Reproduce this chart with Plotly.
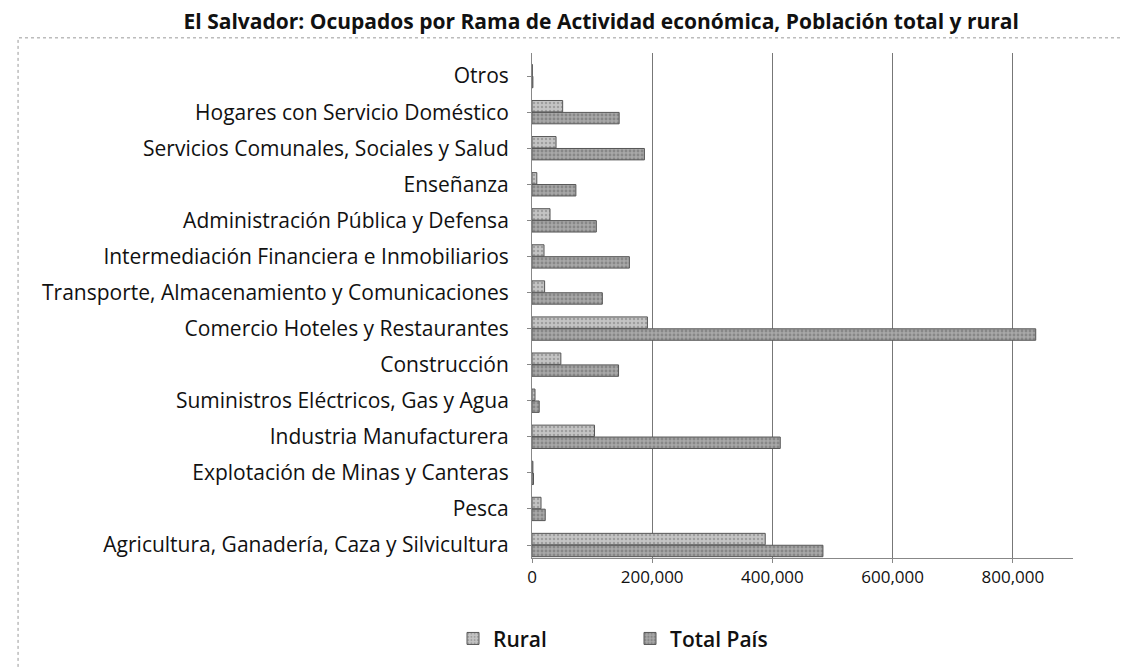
import plotly.graph_objects as go

categories = [
    "Agricultura, Ganadería, Caza y Silvicultura",
    "Pesca",
    "Explotación de Minas y Canteras",
    "Industria Manufacturera",
    "Suministros Eléctricos, Gas y Agua",
    "Construcción",
    "Comercio Hoteles y Restaurantes",
    "Transporte, Almacenamiento y Comunicaciones",
    "Intermediación Financiera e Inmobiliarios",
    "Administración Pública y Defensa",
    "Enseñanza",
    "Servicios Comunales, Sociales y Salud",
    "Hogares con Servicio Doméstico",
    "Otros",
]
rural = [388000, 15000, 1500, 104000, 5000, 48000, 192000, 21000, 20000, 30000, 8000, 40000, 51000, 500]
total_pais = [484000, 22000, 2500, 413000, 12000, 144000, 838000, 117000, 162000, 107000, 73000, 187000, 145000, 1500]
x_ticks = [0, 200000, 400000, 600000, 800000]

font_family = "Open Sans, Lato, sans-serif"

fig = go.Figure()
fig.add_trace(go.Bar(
    y=categories, x=total_pais, orientation="h", name="Total País",
    marker=dict(color="#a8a8a8", line=dict(color="#555555", width=1),
                pattern=dict(shape=".", fgcolor="#666666", size=4, solidity=0.4)),
))
fig.add_trace(go.Bar(
    y=categories, x=rural, orientation="h", name="Rural",
    marker=dict(color="#c4c4c4", line=dict(color="#555555", width=1),
                pattern=dict(shape=".", fgcolor="#777777", size=4, solidity=0.3)),
))

fig.update_layout(
    width=1130, height=668,
    paper_bgcolor="white", plot_bgcolor="white",
    margin=dict(l=524, r=65, t=45, b=118, autoexpand=False),
    barmode="group", bargap=0.34, bargroupgap=0.04,
    font=dict(family=font_family, color="#111111"),
    title=dict(
        text="<b>El Salvador: Ocupados por Rama de Actividad económica, Población total y rural</b>",
        x=0.525, xanchor="center", y=0.99, yanchor="top", yref="container",
        pad=dict(t=0),
        font=dict(size=21, family=font_family, color="#111111"),
    ),
    showlegend=True,
    legend=dict(orientation="h", x=-0.146, xanchor="left", y=-0.16, yanchor="middle",
                traceorder="reversed",
                font=dict(size=21, family=font_family, weight=600),
                itemwidth=30, entrywidth=132, entrywidthmode="pixels"),
    xaxis=dict(
        range=[0, 900000], tickvals=x_ticks, tickformat=",",
        showgrid=True, gridcolor="#777777", gridwidth=1,
        showline=True, linecolor="#888888", linewidth=1,
        ticks="outside", ticklen=4, tickcolor="#888888",
        tickfont=dict(size=17, family=font_family), zeroline=False,
    ),
    yaxis=dict(
        showline=True, linecolor="#888888", linewidth=1,
        ticks="outside", ticklen=4, tickcolor="#888888",
        tickfont=dict(size=21, family=font_family),
        categoryorder="array", categoryarray=categories,
        range=[-0.36, 13.64],
        ticklabelstandoff=14,
    ),
    shapes=[dict(type="rect", xref="paper", yref="paper",
                 x0=-0.95, x1=1.2, y0=-0.3, y1=1.03,
                 line=dict(color="#999999", width=1, dash="dot"))],
)

fig.write_html("out.html")
